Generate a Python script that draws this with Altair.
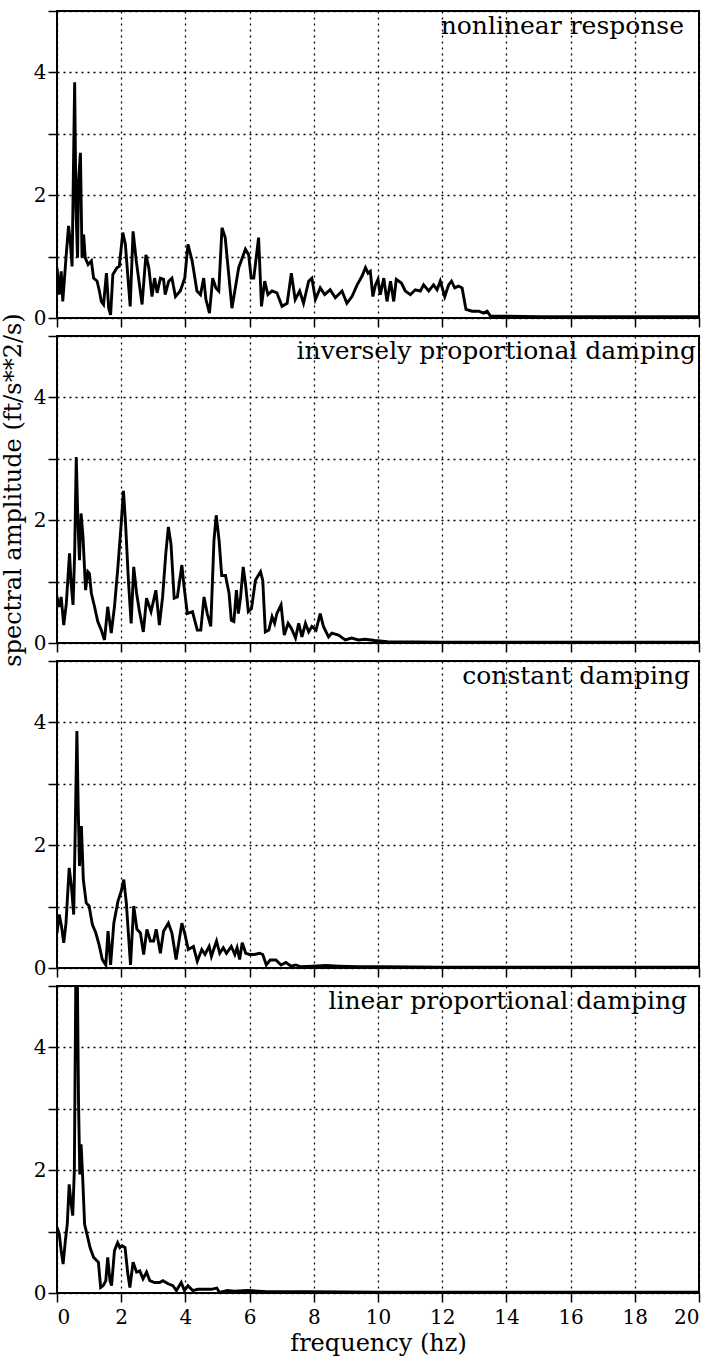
import altair as alt
import pandas as pd

# ---------------- data ----------------
nl_f = [0, 0.07, 0.13, 0.18, 0.28, 0.36, 0.42, 0.47, 0.51, 0.55,
        0.59, 0.64, 0.67, 0.73, 0.78, 0.83, 0.88, 0.97, 1.07, 1.14,
        1.25, 1.32, 1.38, 1.45, 1.54, 1.61, 1.67, 1.74, 1.87, 1.94,
        2.05, 2.13, 2.28, 2.37, 2.47, 2.65, 2.77, 2.86, 2.96, 3.04,
        3.12, 3.22, 3.32, 3.37, 3.48, 3.58, 3.69, 3.84, 3.98, 4.08,
        4.21, 4.36, 4.47, 4.57, 4.64, 4.75, 4.85, 4.95, 5.04, 5.14,
        5.24, 5.45, 5.66, 5.87, 5.97, 6.05, 6.13, 6.28, 6.37, 6.47,
        6.57, 6.70, 6.85, 7.01, 7.17, 7.30, 7.42, 7.56, 7.68, 7.84,
        7.94, 8.05, 8.20, 8.34, 8.51, 8.67, 8.88, 9.03, 9.19, 9.35,
        9.50, 9.61, 9.69, 9.76, 9.84, 9.92, 10.0, 10.07, 10.18, 10.28,
        10.39, 10.49, 10.57, 10.73, 10.85, 11.01, 11.16, 11.32, 11.42, 11.58,
        11.73, 11.84, 11.94, 12.08, 12.20, 12.29, 12.39, 12.51, 12.62, 12.74,
        12.93, 13.14, 13.29, 13.40, 13.50, 13.87, 15, 17, 20]
nl_a = [0.82, 0.38, 0.76, 0.27, 0.98, 1.50, 1.20, 0.84, 2.34, 3.84,
        1.80, 0.98, 2.23, 2.69, 0.98, 1.36, 0.98, 0.87, 0.93, 0.65,
        0.60, 0.44, 0.27, 0.22, 0.73, 0.16, 0.05, 0.71, 0.82, 0.84,
        1.39, 1.20, 0.19, 1.41, 0.93, 0.22, 1.03, 0.82, 0.35, 0.65,
        0.41, 0.65, 0.63, 0.38, 0.60, 0.65, 0.35, 0.44, 0.65, 1.20,
        0.93, 0.44, 0.38, 0.65, 0.30, 0.08, 0.65, 0.49, 0.44, 1.47,
        1.31, 0.16, 0.82, 1.12, 1.03, 0.65, 0.65, 1.31, 0.19, 0.60,
        0.38, 0.44, 0.41, 0.19, 0.24, 0.73, 0.30, 0.44, 0.24, 0.60,
        0.65, 0.30, 0.49, 0.38, 0.46, 0.33, 0.44, 0.24, 0.35, 0.54,
        0.68, 0.82, 0.73, 0.76, 0.35, 0.54, 0.63, 0.38, 0.65, 0.27,
        0.60, 0.27, 0.63, 0.57, 0.44, 0.38, 0.46, 0.44, 0.54, 0.44,
        0.54, 0.46, 0.60, 0.35, 0.54, 0.60, 0.49, 0.52, 0.49, 0.14,
        0.11, 0.11, 0.08, 0.11, 0.03, 0.03, 0.02, 0.02, 0.02]

inv_f = [0, 0.08, 0.13, 0.21, 0.29, 0.39, 0.44, 0.50, 0.55, 0.60,
         0.65, 0.70, 0.75, 0.81, 0.89, 0.96, 1.01, 1.07, 1.17, 1.27,
         1.38, 1.48, 1.58, 1.69, 1.79, 1.89, 2.00, 2.07, 2.13, 2.23,
         2.31, 2.39, 2.48, 2.56, 2.69, 2.79, 2.93, 3.08, 3.19, 3.29,
         3.39, 3.47, 3.55, 3.65, 3.75, 3.89, 3.96, 4.06, 4.22, 4.37,
         4.48, 4.58, 4.68, 4.79, 4.89, 4.96, 5.05, 5.13, 5.25, 5.36,
         5.43, 5.51, 5.59, 5.65, 5.72, 5.80, 5.87, 5.96, 6.06, 6.18,
         6.34, 6.41, 6.49, 6.60, 6.70, 6.78, 6.85, 6.98, 7.08, 7.20,
         7.30, 7.43, 7.53, 7.63, 7.74, 7.84, 7.94, 8.07, 8.20, 8.30,
         8.46, 8.56, 8.77, 8.98, 9.18, 9.39, 9.60, 9.90, 10.3, 12,
         15, 20]
inv_a = [0.75, 0.59, 0.75, 0.29, 0.64, 1.46, 0.97, 0.62, 1.46, 3.03,
         2.00, 1.35, 2.11, 1.73, 0.86, 1.16, 1.13, 0.81, 0.59, 0.35,
         0.21, 0.05, 0.59, 0.16, 0.59, 1.19, 1.94, 2.48, 2.00, 0.97,
         0.32, 1.24, 0.81, 0.54, 0.18, 0.73, 0.51, 0.86, 0.29, 0.75,
         1.46, 1.89, 1.62, 0.73, 0.75, 1.27, 0.91, 0.48, 0.51, 0.21,
         0.21, 0.75, 0.48, 0.27, 1.67, 2.08, 1.67, 1.10, 1.10, 0.81,
         0.37, 0.35, 0.86, 0.48, 0.75, 1.24, 0.97, 0.51, 0.56, 1.02,
         1.16, 1.02, 0.18, 0.21, 0.43, 0.32, 0.48, 0.62, 0.13, 0.32,
         0.24, 0.08, 0.32, 0.10, 0.32, 0.18, 0.27, 0.21, 0.48, 0.27,
         0.10, 0.16, 0.13, 0.05, 0.08, 0.05, 0.06, 0.04, 0.02, 0.015,
         0.015, 0.015]

con_f = [0, 0.07, 0.14, 0.21, 0.28, 0.38, 0.45, 0.52, 0.57, 0.62,
         0.66, 0.70, 0.76, 0.82, 0.91, 1.00, 1.10, 1.21, 1.31, 1.41,
         1.52, 1.59, 1.67, 1.77, 1.90, 2.00, 2.08, 2.16, 2.29, 2.39,
         2.49, 2.60, 2.70, 2.80, 2.91, 3.01, 3.09, 3.22, 3.32, 3.47,
         3.58, 3.71, 3.89, 3.99, 4.09, 4.25, 4.37, 4.51, 4.61, 4.74,
         4.81, 4.97, 5.07, 5.18, 5.28, 5.43, 5.54, 5.61, 5.69, 5.77,
         5.88, 6.00, 6.15, 6.31, 6.41, 6.52, 6.64, 6.82, 6.98, 7.13,
         7.29, 7.44, 7.60, 7.96, 8.37, 8.78, 9.40, 10.1, 12, 15,
         20]
con_a = [0.57, 0.87, 0.68, 0.41, 0.73, 1.63, 1.33, 0.87, 2.31, 3.86,
         2.64, 1.66, 2.31, 1.44, 1.06, 1.01, 0.71, 0.57, 0.38, 0.14,
         0.05, 0.60, 0.05, 0.73, 1.09, 1.25, 1.44, 1.06, 0.05, 1.01,
         0.63, 0.57, 0.22, 0.63, 0.44, 0.44, 0.63, 0.24, 0.60, 0.73,
         0.57, 0.14, 0.73, 0.54, 0.30, 0.35, 0.11, 0.30, 0.22, 0.35,
         0.19, 0.44, 0.24, 0.33, 0.24, 0.35, 0.22, 0.33, 0.14, 0.41,
         0.24, 0.22, 0.22, 0.24, 0.22, 0.05, 0.13, 0.13, 0.05, 0.09,
         0.03, 0.05, 0.02, 0.03, 0.04, 0.03, 0.02, 0.02, 0.015, 0.015,
         0.015]

lin_f = [0, 0.07, 0.13, 0.19, 0.26, 0.32, 0.38, 0.43, 0.49, 0.54,
         0.59, 0.63, 0.67, 0.71, 0.75, 0.80, 0.86, 0.96, 1.03, 1.14,
         1.29, 1.36, 1.44, 1.52, 1.58, 1.65, 1.70, 1.79, 1.89, 1.96,
         2.03, 2.12, 2.20, 2.27, 2.37, 2.48, 2.58, 2.68, 2.79, 2.89,
         3.04, 3.20, 3.30, 3.46, 3.61, 3.72, 3.87, 3.97, 4.08, 4.23,
         4.39, 4.59, 4.80, 4.98, 5.06, 5.31, 5.52, 5.93, 6.55, 8,
         10, 13, 16, 20]
lin_a = [1.07, 0.96, 0.69, 0.47, 0.85, 1.12, 1.77, 1.50, 1.26, 1.99,
         5.4, 5.4, 3.12, 1.93, 2.42, 1.88, 1.12, 0.90, 0.74, 0.58,
         0.50, 0.09, 0.12, 0.20, 0.58, 0.20, 0.12, 0.69, 0.82, 0.74,
         0.77, 0.74, 0.34, 0.09, 0.50, 0.34, 0.36, 0.23, 0.34, 0.20,
         0.17, 0.17, 0.20, 0.15, 0.12, 0.04, 0.17, 0.04, 0.12, 0.04,
         0.06, 0.06, 0.06, 0.08, 0.01, 0.04, 0.03, 0.04, 0.02, 0.02,
         0.015, 0.015, 0.015, 0.015]

labels = ["nonlinear response", "inversely proportional damping",
          "constant damping", "linear proportional damping"]
x_ticks = [i * 0.5 for i in range(41)]
y_ticks = [i * 0.5 for i in range(11)]

FONT = "DejaVu Serif"
W, H = 642, 307
MAJOR = "datum.value % 2 === 0"


def panel(freq, amp, label, label_dx, bottom, ytitle):
    df = pd.DataFrame({"f": freq, "a": amp})
    xkw = dict(
        values=x_ticks, grid=True, gridColor="black", gridDash=[2, 4],
        gridWidth=1.3,
        gridOpacity={"condition": {"test": MAJOR, "value": 1}, "value": 0},
        tickColor="black", tickWidth=1.5,
        tickSize={"condition": {"test": MAJOR, "value": 9}, "value": 5},
        domain=False, labelOverlap=False,
    )
    if bottom:
        xkw.update(labels=True,
                   labelExpr=MAJOR + " ? format(datum.value, 'd') : ''",
                   labelFont=FONT, labelFontSize=20, labelColor="black",
                   labelPadding=5,
                   title="frequency (hz)", titleFont=FONT, titleFontSize=24,
                   titleFontWeight="normal", titleColor="black",
                   titlePadding=4)
    else:
        xkw.update(labels=False, title=None)
    ykw = dict(
        values=y_ticks, grid=True, gridColor="black", gridDash=[2, 4],
        gridWidth=1.3, tickColor="black", tickWidth=1.5, tickSize=9,
        domain=False, labelOverlap=False,
        labelExpr=MAJOR + " ? format(datum.value, 'd') : ''",
        labelFont=FONT, labelFontSize=20, labelColor="black", labelPadding=2,
    )
    if ytitle:
        ykw.update(title="spectral amplitude (ft/s**2/s)", titleFont=FONT,
                   titleFontSize=24, titleFontWeight="normal",
                   titleColor="black", titleAngle=-90,
                   titleBaseline="alphabetic", titleX=-37, titleY=H / 2,
                   titleAlign="center")
    else:
        ykw.update(title=None)
    line = alt.Chart(df).mark_line(color="black", strokeWidth=2.9,
                                   clip=True).encode(
        x=alt.X("f:Q", scale=alt.Scale(domain=[0, 20], nice=False, zero=False),
                axis=alt.Axis(**xkw)),
        y=alt.Y("a:Q", scale=alt.Scale(domain=[0, 5], nice=False),
                axis=alt.Axis(**ykw)),
    )
    text = alt.Chart(pd.DataFrame({"t": [label]})).mark_text(
        align="right", baseline="alphabetic", dx=label_dx, dy=23,
        font=FONT, fontSize=25, color="black",
    ).encode(x=alt.datum(20), y=alt.datum(5), text="t:N")
    return alt.layer(line, text).properties(width=W, height=H)


p1 = panel(nl_f, nl_a, labels[0], -15, False, False)
p2 = panel(inv_f, inv_a, labels[1], -3, False, True)
p3 = panel(con_f, con_a, labels[2], -9, False, False)
p4 = panel(lin_f, lin_a, labels[3], -12, True, False)

chart = alt.vconcat(p1, p2, p3, p4, spacing=18, bounds="flush").properties(
    padding={"left": 0, "top": 0, "right": 2, "bottom": 0},
    background="white",
).configure_view(stroke="black", strokeWidth=2)

chart.save("out.html", embed_options={"renderer": "svg", "actions": False})
